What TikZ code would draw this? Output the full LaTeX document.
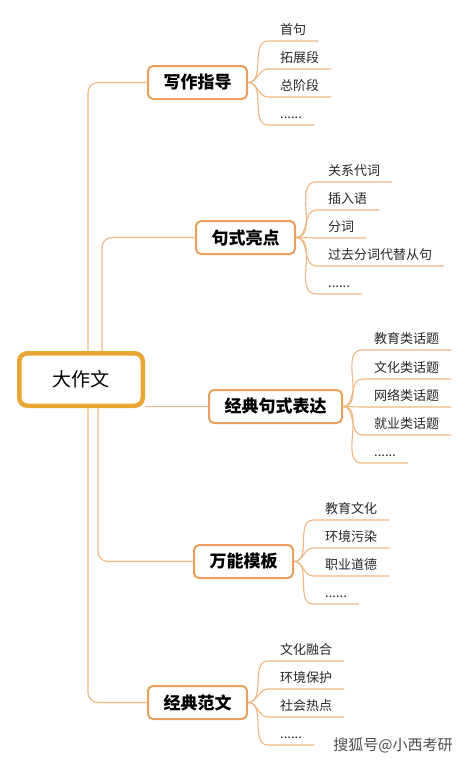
\documentclass[tikz,border=0pt]{standalone}
\usepackage{fontspec}
\newfontfamily\cjk{Noto Sans CJK SC}
\usepackage{tikz}

\tikzset{
	hub/.style={draw=rootcol, line width=4.5pt, rounded corners=8pt, minimum width=123.5pt, minimum height=52.5pt, font=\cjk\fontsize{19}{22}\selectfont},
	topic/.style={draw=boxcol, line width=2pt, rounded corners=5pt, fill=white, inner xsep=15.5pt, minimum height=33pt, font=\cjk\bfseries\fontsize{17}{20}\selectfont},
	leaf/.style={anchor=south west, inner xsep=12pt, inner ysep=4.5pt, text height=10pt, text depth=2pt, text=black!85, font=\cjk\fontsize{13}{15}\selectfont},
	link/.style={draw=linecol, line width=1.1pt}
}

\begin{document}
\begin{tikzpicture}[x=1pt,y=-1pt]
	\definecolor{rootcol}{RGB}{234,166,52}
	\definecolor{boxcol}{RGB}{234,160,92}
	\definecolor{linecol}{RGB}{240,182,130}
	\useasboundingbox (0,0) rectangle (469,761);

	\node[hub] (dzw) at (81,379.5) {大作文};

	\node[topic] (xzzd) at (197.5,82.5) {写作指导};
	\node[topic] (jsld) at (245.5,237.5) {句式亮点};
	\node[topic] (jdbd) at (275.5,406.5) {经典句式表达};
	\node[topic] (wnmb) at (243.5,561.5) {万能模板};
	\node[topic] (jdfw) at (197.5,702.5) {经典范文};

	\draw[link, rounded corners=10pt] ([xshift=71pt]dzw.north west) |- (xzzd.west);
	\draw[link, rounded corners=10pt] ([xshift=85pt]dzw.north west) |- (jsld.west);
	\draw[link] (jdbd.west -| dzw.east) -- (jdbd.west);
	\draw[link, rounded corners=10pt] ([xshift=81pt]dzw.south west) |- (wnmb.west);
	\draw[link, rounded corners=10pt] ([xshift=71pt]dzw.south west) |- (jdfw.west);

	\node[leaf] (xz1) at (268,41) {首句};
	\node[leaf] (xz2) at (268,69) {拓展段};
	\node[leaf] (xz3) at (268,97) {总阶段};
	\node[leaf] (xz4) at (268,125) {......};

	\node[leaf] (js1) at (316,182) {关系代词};
	\node[leaf] (js2) at (316,210) {插入语};
	\node[leaf] (js3) at (316,238) {分词};
	\node[leaf] (js4) at (316,266) {过去分词代替从句};
	\node[leaf] (js5) at (316,294) {......};

	\node[leaf] (jd1) at (362,350) {教育类话题};
	\node[leaf] (jd2) at (362,379) {文化类话题};
	\node[leaf] (jd3) at (362,407) {网络类话题};
	\node[leaf] (jd4) at (362,435) {就业类话题};
	\node[leaf] (jd5) at (362,463) {......};

	\node[leaf] (wn1) at (313,520) {教育文化};
	\node[leaf] (wn2) at (313,548) {环境污染};
	\node[leaf] (wn3) at (313,576) {职业道德};
	\node[leaf] (wn4) at (313,604) {......};

	\node[leaf] (fw1) at (268,661) {文化融合};
	\node[leaf] (fw2) at (268,689) {环境保护};
	\node[leaf] (fw3) at (268,717) {社会热点};
	\node[leaf] (fw4) at (268,745) {......};

	\draw[link] (xzzd.east) to[out=0,in=180] (xz1.south west) -- (xz1.south east);
	\draw[link] (xzzd.east) to[out=0,in=180] (xz2.south west) -- (xz2.south east);
	\draw[link] (xzzd.east) to[out=0,in=180] (xz3.south west) -- (xz3.south east);
	\draw[link] (xzzd.east) to[out=0,in=180] (xz4.south west) -- (xz4.south east);

	\draw[link] (jsld.east) to[out=0,in=180] (js1.south west) -- (js1.south east);
	\draw[link] (jsld.east) to[out=0,in=180] (js2.south west) -- (js2.south east);
	\draw[link] (jsld.east) to[out=0,in=180] (js3.south west) -- (js3.south east);
	\draw[link] (jsld.east) to[out=0,in=180] (js4.south west) -- (js4.south east);
	\draw[link] (jsld.east) to[out=0,in=180] (js5.south west) -- (js5.south east);

	\draw[link] (jdbd.east) to[out=0,in=180] (jd1.south west) -- (jd1.south east);
	\draw[link] (jdbd.east) to[out=0,in=180] (jd2.south west) -- (jd2.south east);
	\draw[link] (jdbd.east) to[out=0,in=180] (jd3.south west) -- (jd3.south east);
	\draw[link] (jdbd.east) to[out=0,in=180] (jd4.south west) -- (jd4.south east);
	\draw[link] (jdbd.east) to[out=0,in=180] (jd5.south west) -- (jd5.south east);

	\draw[link] (wnmb.east) to[out=0,in=180] (wn1.south west) -- (wn1.south east);
	\draw[link] (wnmb.east) to[out=0,in=180] (wn2.south west) -- (wn2.south east);
	\draw[link] (wnmb.east) to[out=0,in=180] (wn3.south west) -- (wn3.south east);
	\draw[link] (wnmb.east) to[out=0,in=180] (wn4.south west) -- (wn4.south east);

	\draw[link] (jdfw.east) to[out=0,in=180] (fw1.south west) -- (fw1.south east);
	\draw[link] (jdfw.east) to[out=0,in=180] (fw2.south west) -- (fw2.south east);
	\draw[link] (jdfw.east) to[out=0,in=180] (fw3.south west) -- (fw3.south east);
	\draw[link] (jdfw.east) to[out=0,in=180] (fw4.south west) -- (fw4.south east);

	\node[font=\cjk\fontsize{15}{17}\selectfont, text=black!70] (wm) at (393,745) {搜狐号@小西考研};
\end{tikzpicture}
\end{document}
